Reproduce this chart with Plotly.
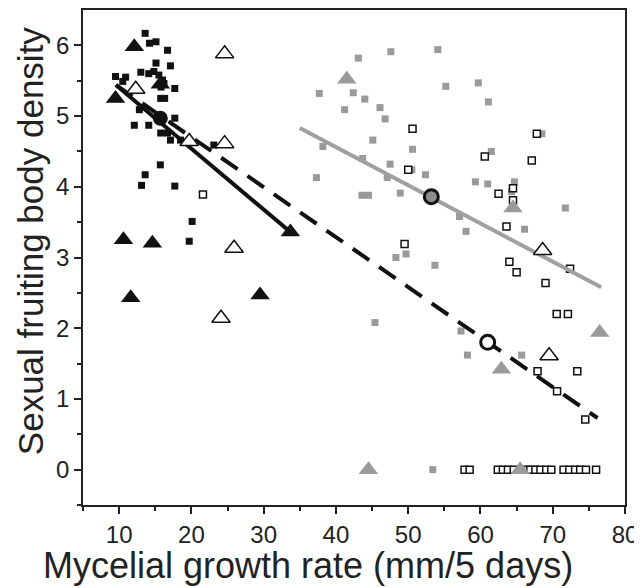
import plotly.graph_objects as go

# Black filled squares
bsq_x = [13.6, 14.2, 15.1, 16.7, 15.1, 17.1, 13.0, 14.1, 14.8, 9.5, 10.9, 10.5, 15.5, 16.0, 16.2, 15.8, 17.7,
         15.75, 16.3, 12.8, 17.7, 12.1, 14.1, 15.75, 16.7, 17.1, 18.5, 23.1, 15.7, 13.6, 13.1, 17.7, 20.1, 19.7]
bsq_y = [6.17, 6.03, 6.05, 5.93, 5.75, 5.71, 5.62, 5.60, 5.63, 5.56, 5.55, 5.49, 5.58, 5.51, 5.46, 5.41, 5.39,
         5.25, 5.25, 5.09, 4.97, 4.87, 4.87, 4.76, 4.76, 4.66, 4.66, 4.59, 4.31, 4.17, 4.02, 4.01, 3.51, 3.23]

# Black filled triangles
btr_x = [12.1, 9.5, 15.7, 10.6, 14.6, 11.6, 29.5, 33.7]
btr_y = [5.98, 5.25, 5.45, 3.25, 3.20, 2.43, 2.47, 3.36]

# Open triangles
otr_x = [12.3, 24.6, 19.7, 24.6, 25.9, 24.1, 68.6, 69.5]
otr_y = [5.38, 5.88, 4.64, 4.61, 3.13, 2.14, 3.10, 1.61]

# Gray filled triangles
gtr_x = [41.5, 64.5, 62.9, 76.5, 44.5, 65.5]
gtr_y = [5.52, 3.70, 1.42, 1.94, 0.0, 0.0]

# Gray filled squares
gsq_x = [37.7, 43.1, 47.6, 54.1, 55.2, 59.7, 61.1, 42.4, 44.0, 41.2, 46.1, 46.8, 45.1, 50.6, 38.2, 43.7, 47.5,
         50.5, 52.4, 37.3, 47.1, 59.3, 43.6, 44.5, 48.9, 57.1, 58.0, 68.5, 61.5, 61.0, 64.7, 64.3, 71.75, 66.1,
         49.7, 48.3, 53.7, 45.4, 57.3, 58.2, 65.7, 53.4]
gsq_y = [5.32, 5.82, 5.91, 5.94, 5.42, 5.47, 5.20, 5.33, 5.24, 5.09, 5.12, 4.96, 4.66, 4.53, 4.57, 4.40, 4.32,
         4.24, 4.17, 4.13, 4.13, 4.07, 3.88, 3.88, 3.91, 3.58, 3.37, 4.75, 4.50, 4.04, 4.07, 3.93, 3.70, 3.40,
         3.05, 3.00, 2.89, 2.08, 1.96, 1.62, 1.62, 0.0]

# Open squares
osq_x = [21.6, 50.6, 50.0, 49.5, 67.8, 60.6, 67.1, 64.5, 62.5, 64.5, 63.6, 64.0, 65.0, 72.4, 69.0, 70.55, 72.1,
         67.9, 73.4, 70.6, 74.5,
         57.8, 58.5, 62.4, 63.1, 63.8, 64.6, 66.2, 66.9, 67.6, 68.3, 69.1, 69.8, 71.5, 72.3, 73.1, 73.8, 74.6, 76.0]
osq_y = [3.89, 4.82, 4.24, 3.19, 4.75, 4.43, 4.37, 3.98, 3.90, 3.81, 3.44, 2.94, 2.79, 2.84, 2.64, 2.20, 2.20,
         1.39, 1.39, 1.11, 0.71,
         0, 0, 0, 0, 0, 0, 0, 0, 0, 0, 0, 0, 0, 0, 0, 0, 0, 0]

# Regression lines
solid_x = [9.55, 33.7]
solid_y = [5.44, 3.36]
dash_x = [9.55, 76.2]
dash_y = [5.44, 0.73]
gray_x = [35.0, 76.7]
gray_y = [4.83, 2.58]

# Mean points
mean_black = (15.7, 4.97)
mean_gray = (53.2, 3.86)
mean_white = (61.0, 1.80)

x_title = "Mycelial growth rate (mm/5 days)"
y_title = "Sexual fruiting body density"

GRAY = "#9a9a9a"
FONT = "Liberation Sans, Arial, sans-serif"
fig = go.Figure()

fig.add_trace(go.Scatter(x=gsq_x, y=gsq_y, mode="markers",
                         marker=dict(symbol="square", size=7, color=GRAY, line=dict(width=0))))
fig.add_trace(go.Scatter(x=osq_x, y=osq_y, mode="markers",
                         marker=dict(symbol="square", size=7, color="white", line=dict(width=1.5, color="#111"))))
fig.add_trace(go.Scatter(x=bsq_x, y=bsq_y, mode="markers",
                         marker=dict(symbol="square", size=7, color="#111", line=dict(width=0))))
fig.add_trace(go.Scatter(x=gray_x, y=gray_y, mode="lines", line=dict(color="#a0a0a0", width=4)))
fig.add_trace(go.Scatter(x=solid_x, y=solid_y, mode="lines", line=dict(color="#111", width=4)))
fig.add_trace(go.Scatter(x=dash_x, y=dash_y, mode="lines", line=dict(color="#111", width=4, dash="20px,12px")))
fig.add_trace(go.Scatter(x=btr_x, y=btr_y, mode="markers",
                         marker=dict(symbol="triangle-up", size=17, color="#111", line=dict(width=0))))
fig.add_trace(go.Scatter(x=gtr_x, y=gtr_y, mode="markers",
                         marker=dict(symbol="triangle-up", size=17, color=GRAY, line=dict(width=0))))
fig.add_trace(go.Scatter(x=otr_x, y=otr_y, mode="markers",
                         marker=dict(symbol="triangle-up", size=16, color="white", line=dict(width=1.5, color="#111"))))
fig.add_trace(go.Scatter(x=[mean_black[0]], y=[mean_black[1]], mode="markers",
                         marker=dict(symbol="circle", size=15, color="#111", line=dict(width=0))))
fig.add_trace(go.Scatter(x=[mean_gray[0]], y=[mean_gray[1]], mode="markers",
                         marker=dict(symbol="circle", size=14, color="#8c8c8c", line=dict(width=3, color="#111"))))
fig.add_trace(go.Scatter(x=[mean_white[0]], y=[mean_white[1]], mode="markers",
                         marker=dict(symbol="circle", size=14, color="white", line=dict(width=3, color="#111"))))

axis_common = dict(showline=True, linecolor="#222", linewidth=1.5, mirror=True, showgrid=False, zeroline=False,
                   ticks="outside", ticklen=7, tickwidth=1.5, tickcolor="#222", automargin=False,
                   tickfont=dict(family=FONT, size=24, color="#222"))

fig.update_layout(
    width=642, height=588,
    margin=dict(l=75, r=25, t=2, b=91),
    paper_bgcolor="white", plot_bgcolor="white",
    showlegend=False,
    xaxis=dict(range=[5, 80], tickvals=[10, 20, 30, 40, 50, 60, 70, 80],
               minor=dict(tickvals=[5, 15, 25, 35, 45, 55, 65, 75], ticks="outside", ticklen=4, tickwidth=1.5, tickcolor="#222"),
               **axis_common),
    yaxis=dict(range=[-0.5, 6.5], tickvals=[0, 1, 2, 3, 4, 5, 6],
               minor=dict(tickvals=[-0.5, 0.5, 1.5, 2.5, 3.5, 4.5, 5.5], ticks="outside", ticklen=4, tickwidth=1.5, tickcolor="#222"),
               **axis_common),
    annotations=[
        dict(text=x_title, xref="paper", yref="paper", x=0.415, y=-0.122, xanchor="center", yanchor="middle",
             showarrow=False, font=dict(family=FONT, size=36, color="#222")),
        dict(text=y_title, xref="paper", yref="paper", x=-0.0978, y=0.535, xanchor="center", yanchor="middle",
             textangle=-90, showarrow=False, font=dict(family=FONT, size=35, color="#222")),
    ],
)

fig.write_html("out.html")
